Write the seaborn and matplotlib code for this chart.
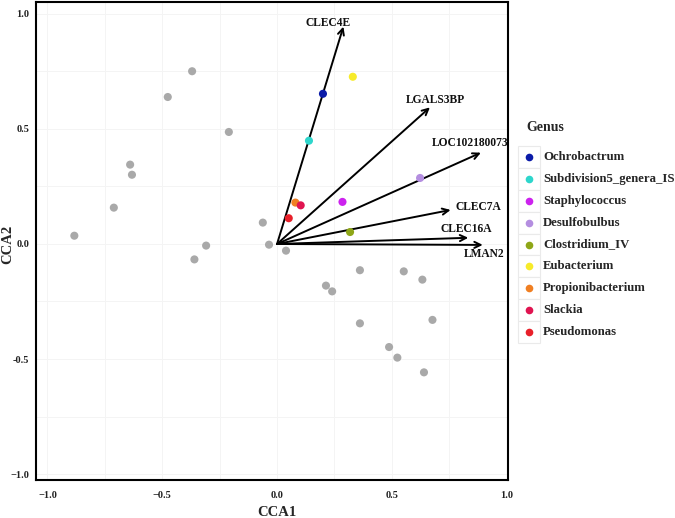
import matplotlib
matplotlib.use("Agg")
import matplotlib.pyplot as plt
import seaborn as sns
import pandas as pd
from matplotlib.patches import Rectangle
from matplotlib.lines import Line2D

# ---- data ----
other_x = [-0.883, -0.711, -0.640, -0.632, -0.476, -0.370, -0.210, -0.062, -0.035,
           -0.309, -0.360, 0.039, 0.361, 0.213, 0.240, 0.552, 0.633, 0.361, 0.677,
           0.488, 0.524, 0.640]
other_y = [0.036, 0.158, 0.345, 0.301, 0.639, 0.751, 0.487, 0.093, -0.003,
           -0.007, -0.067, -0.029, -0.114, -0.181, -0.206, -0.119, -0.155, -0.345,
           -0.330, -0.448, -0.494, -0.558]

genus = ["Ochrobactrum", "Subdivision5_genera_IS", "Staphylococcus", "Desulfobulbus",
         "Clostridium_IV", "Eubacterium", "Propionibacterium", "Slackia", "Pseudomonas"]
genus_x = [0.200, 0.139, 0.285, 0.623, 0.318, 0.330, 0.080, 0.103, 0.051]
genus_y = [0.653, 0.449, 0.183, 0.287, 0.052, 0.727, 0.180, 0.168, 0.112]
genus_colors = ["#0B1BA8", "#2ED6CC", "#CC22EE", "#B48EE0", "#8EA617",
                "#F7EB2A", "#F07F22", "#E01450", "#E8202A"]

genes = ["CLEC4E", "LGALS3BP", "LOC102180073", "CLEC7A", "CLEC16A", "LMAN2"]
gene_x = [0.289, 0.666, 0.888, 0.756, 0.833, 0.896]
gene_y = [0.945, 0.594, 0.397, 0.148, 0.027, -0.004]
label_x = [0.224, 0.688, 0.842, 0.878, 0.826, 0.901]
label_y = [0.962, 0.626, 0.440, 0.160, 0.064, -0.045]

x_ticks = [-1.0, -0.5, 0.0, 0.5, 1.0]
x_ticklabels = ["\u22121.0", "\u22120.5", "0.0", "0.5", "1.0"]
y_ticks = [-1.0, -0.5, 0.0, 0.5, 1.0]
y_ticklabels = ["\u22121.0", "-0.5", "0.0", "0.5", "1.0"]

# ---- plot ----
sns.set_style("white")
plt.rcParams["font.family"] = ["Liberation Serif", "DejaVu Serif"]

W, H = 675, 518
fig = plt.figure(figsize=(W / 100, H / 100), dpi=100)
ax = fig.add_axes([36 / W, 1 - 480 / H, (508 - 36) / W, (480 - 2) / H])

ax.set_xlim(-1.05, 1.006)
ax.set_ylim(-1.026, 1.052)

# grid
for v in [-1.0, -0.75, -0.5, -0.25, 0.0, 0.25, 0.5, 0.75, 1.0]:
    ax.axvline(v, color="#F4F4F4", lw=0.7, zorder=0)
    ax.axhline(v, color="#F4F4F4", lw=0.7, zorder=0)

df_o = pd.DataFrame({"CCA1": other_x, "CCA2": other_y})
sns.scatterplot(data=df_o, x="CCA1", y="CCA2", color="#A9A9A9", s=34,
                edgecolor="none", ax=ax, zorder=2, legend=False)

for gx, gy, lx, ly, g in zip(gene_x, gene_y, label_x, label_y, genes):
    ax.annotate("", xy=(gx, gy), xytext=(0, 0),
                arrowprops=dict(arrowstyle="->,head_length=0.45,head_width=0.22",
                                color="black", lw=1.4, shrinkA=0, shrinkB=0),
                zorder=3)
    ax.text(lx, ly, g, ha="center", va="center", fontsize=8.3, fontweight="bold",
            color="#111111", zorder=4)

df_g = pd.DataFrame({"CCA1": genus_x, "CCA2": genus_y, "Genus": genus})
sns.scatterplot(data=df_g, x="CCA1", y="CCA2", hue="Genus", hue_order=genus,
                palette=genus_colors, s=34, edgecolor="none", ax=ax, zorder=5,
                legend=False)

ax.set_xticks(x_ticks)
ax.set_yticks(y_ticks)
ax.set_xticklabels(x_ticklabels, fontsize=7.5, fontweight="bold")
ax.set_yticklabels(y_ticklabels, fontsize=7.5, fontweight="bold")
ax.tick_params(axis="x", length=0, pad=8, colors="#222222")
ax.tick_params(axis="y", length=0, pad=5, colors="#222222")
ax.set_xlabel("CCA1", fontsize=10.5, fontweight="bold")
ax.set_ylabel("CCA2", fontsize=10.5, fontweight="bold")
ax.xaxis.set_label_coords((277 - 36) / 472, -(513 - 480) / 478)
ax.yaxis.set_label_coords(-(36 - 8) / 472, (480 - 244) / 478)
ax.xaxis.label.set_va("center")
ax.yaxis.label.set_va("center")
for sp in ax.spines.values():
    sp.set_visible(True)
    sp.set_color("black")
    sp.set_linewidth(1.5)

# legend
row0 = 156.7
step = 21.95
for i in range(len(genus)):
    cy = row0 + i * step
    fig.patches.append(Rectangle((518 / W, 1 - (cy + step / 2) / H), 22 / W, step / H,
                                 transform=fig.transFigure, facecolor="white",
                                 edgecolor="#EAEAEA", lw=0.8, zorder=0))
fig.text(526 / W, 1 - 127 / H, "Genus", fontsize=10, fontweight="bold",
         ha="left", va="center")
for i, (g, c) in enumerate(zip(genus, genus_colors)):
    cy = row0 + i * step
    fig.add_artist(Line2D([529 / W], [1 - cy / H], marker="o", linestyle="none",
                          markersize=5.5, markerfacecolor=c, markeredgecolor="none",
                          transform=fig.transFigure))
    fig.text(543 / W, 1 - cy / H, g, fontsize=9.2, fontweight="bold",
             ha="left", va="center")

fig.savefig("out.png", dpi=100)
